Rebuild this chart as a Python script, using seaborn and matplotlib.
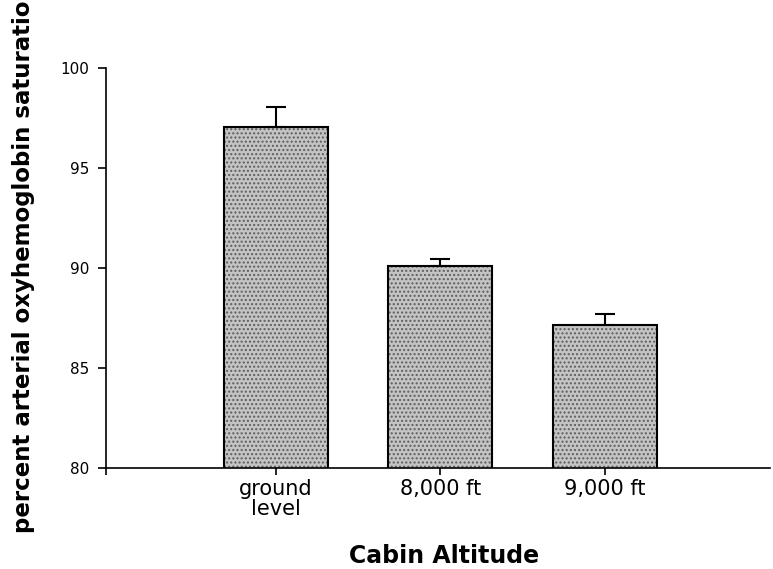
import numpy as np
import pandas as pd
import matplotlib
matplotlib.use("Agg")
import matplotlib.pyplot as plt
import seaborn as sns

altitudes = ["ground\nlevel", "8,000 ft", "9,000 ft"]
saturation = [97.05, 90.1, 87.15]
sem = [1.0, 0.35, 0.55]

df = pd.DataFrame({"altitude": altitudes, "saturation": saturation})

sns.set_style("ticks")
plt.rcParams["font.family"] = ["DejaVu Sans"]
plt.rcParams["hatch.linewidth"] = 1.0

fig = plt.figure(figsize=(7.73, 5.69), dpi=100)
ax = fig.add_axes([0.137, 0.1775, 0.859, 0.703])

# stippled grey fill, then a black outline on top
sns.barplot(data=df, x="altitude", y="saturation", color="#c4c4c4",
            edgecolor="#5e5e5e", linewidth=0, hatch="....", width=0.63,
            saturation=1, ax=ax)
sns.barplot(data=df, x="altitude", y="saturation", fill=False,
            edgecolor="black", linewidth=1.5, width=0.63, ax=ax)

# one-sided error bars (upper only)
ax.errorbar(np.arange(len(altitudes)), saturation,
            yerr=[np.zeros(len(sem)), sem], fmt="none",
            ecolor="black", elinewidth=1.5, capsize=7, capthick=1.5)

ax.set_ylim(80, 100)
ax.set_yticks([80, 85, 90, 95, 100])
ax.set_xlim(-1.03, 3.0)
ax.set_xticks([-1.03], minor=True)

sns.despine(ax=ax)
ax.spines["left"].set_linewidth(1.2)
ax.spines["bottom"].set_linewidth(1.2)
ax.spines["left"].set_color("black")
ax.spines["bottom"].set_color("black")
ax.tick_params(axis="y", direction="out", length=6, width=1.2, labelsize=11,
               pad=6, colors="black")
ax.tick_params(axis="x", which="both", direction="out", length=5, width=1.2,
               labelsize=15, pad=3, colors="black")
for lab in ax.get_xticklabels():
    lab.set_linespacing(1.0)

ax.set_xlabel("Cabin Altitude", fontsize=17, fontweight="bold", color="black")
ax.xaxis.label.set_va("center")
ax.xaxis.set_label_coords(0.51, -0.22)

ax.set_ylabel("percent arterial oxyhemoglobin saturation", fontsize=16.5,
              fontweight="bold", color="black", ha="left")
ax.yaxis.set_label_coords(-0.107, -0.1625)

fig.savefig("out.png", dpi=100)
